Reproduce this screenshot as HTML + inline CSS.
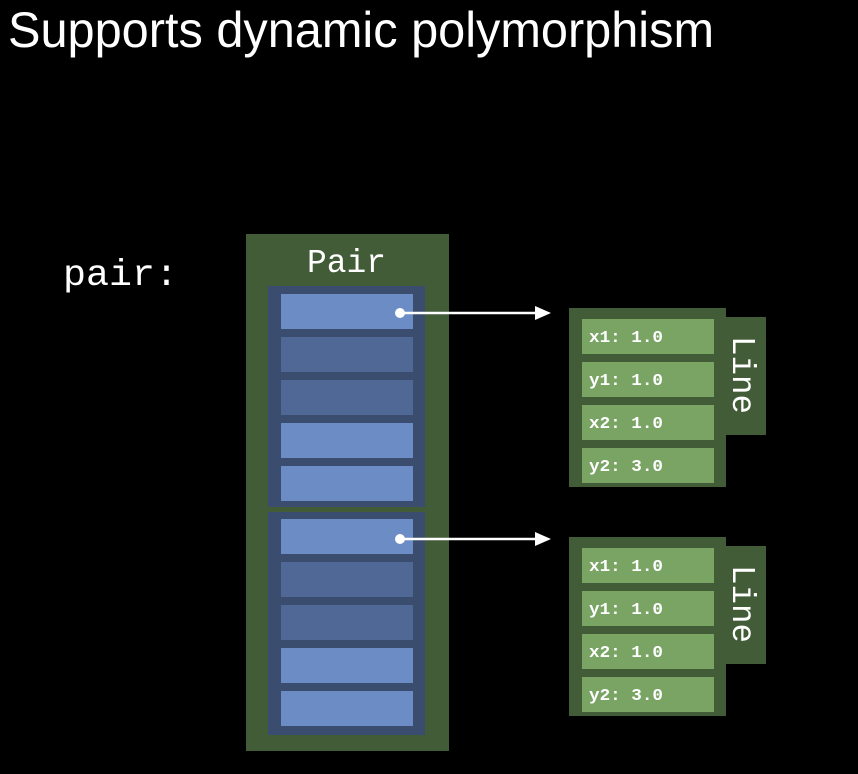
<!DOCTYPE html>
<html><head><style>
html,body{margin:0;padding:0;background:#000;width:858px;height:774px;overflow:hidden}
</style></head><body>
<svg width="858" height="774" viewBox="0 0 858 774" xmlns="http://www.w3.org/2000/svg">
<rect width="858" height="774" fill="#000"/>
<text x="8" y="47" font-family="Liberation Sans, sans-serif" font-size="50" fill="#fff" textLength="706" lengthAdjust="spacingAndGlyphs">Supports dynamic polymorphism</text>
<text x="63" y="285" font-family="Liberation Mono, monospace" font-size="37" fill="#fff" textLength="115" lengthAdjust="spacingAndGlyphs">pair:</text>
<rect x="246" y="234" width="203" height="517" fill="#435c38"/>
<text x="307" y="272" font-family="Liberation Mono, monospace" font-size="33" fill="#fff" textLength="79" lengthAdjust="spacingAndGlyphs">Pair</text>
<rect x="268" y="286" width="157" height="221" fill="#3b4d6e"/>
<rect x="268" y="512" width="157" height="223" fill="#3b4d6e"/>
<g>
<rect x="281" y="294" width="132" height="35" fill="#6b8cc4"/>
<rect x="281" y="337" width="132" height="35" fill="#4f6896"/>
<rect x="281" y="380" width="132" height="35" fill="#4f6896"/>
<rect x="281" y="423" width="132" height="35" fill="#6b8cc4"/>
<rect x="281" y="466" width="132" height="35" fill="#6b8cc4"/>
<rect x="281" y="519" width="132" height="35" fill="#6b8cc4"/>
<rect x="281" y="562" width="132" height="35" fill="#4f6896"/>
<rect x="281" y="605" width="132" height="35" fill="#4f6896"/>
<rect x="281" y="648" width="132" height="35" fill="#6b8cc4"/>
<rect x="281" y="691" width="132" height="35" fill="#6b8cc4"/>
</g>
<g stroke="#fff" stroke-width="2.5" fill="#fff">
<circle cx="400" cy="313" r="5" stroke="none"/>
<line x1="400" y1="313" x2="536" y2="313"/>
<polygon points="535,306 551,313 535,320" stroke="none"/>
<circle cx="400" cy="539" r="5" stroke="none"/>
<line x1="400" y1="539" x2="536" y2="539"/>
<polygon points="535,532 551,539 535,546" stroke="none"/>
</g>
<g font-family="Liberation Mono, monospace" font-weight="bold" font-size="17" fill="#fff">
<rect x="569" y="308" width="157" height="179" fill="#435c38"/>
<rect x="726" y="317" width="40" height="118" fill="#435c38"/>
<rect x="582" y="319" width="132" height="35" fill="#79a464"/>
<rect x="582" y="362" width="132" height="35" fill="#79a464"/>
<rect x="582" y="405" width="132" height="35" fill="#79a464"/>
<rect x="582" y="448" width="132" height="35" fill="#79a464"/>
<text x="589" y="342" textLength="74" lengthAdjust="spacingAndGlyphs">x1: 1.0</text>
<text x="589" y="385" textLength="74" lengthAdjust="spacingAndGlyphs">y1: 1.0</text>
<text x="589" y="428" textLength="74" lengthAdjust="spacingAndGlyphs">x2: 1.0</text>
<text x="589" y="471" textLength="74" lengthAdjust="spacingAndGlyphs">y2: 3.0</text>
<rect x="569" y="537" width="157" height="179" fill="#435c38"/>
<rect x="726" y="546" width="40" height="118" fill="#435c38"/>
<rect x="582" y="548" width="132" height="35" fill="#79a464"/>
<rect x="582" y="591" width="132" height="35" fill="#79a464"/>
<rect x="582" y="634" width="132" height="35" fill="#79a464"/>
<rect x="582" y="677" width="132" height="35" fill="#79a464"/>
<text x="589" y="571" textLength="74" lengthAdjust="spacingAndGlyphs">x1: 1.0</text>
<text x="589" y="614" textLength="74" lengthAdjust="spacingAndGlyphs">y1: 1.0</text>
<text x="589" y="657" textLength="74" lengthAdjust="spacingAndGlyphs">x2: 1.0</text>
<text x="589" y="700" textLength="74" lengthAdjust="spacingAndGlyphs">y2: 3.0</text>
</g>
<g font-family="Liberation Mono, monospace" font-size="33" fill="#fff">
<text transform="translate(733,336) rotate(90)" textLength="78" lengthAdjust="spacingAndGlyphs">Line</text>
<text transform="translate(733,565) rotate(90)" textLength="78" lengthAdjust="spacingAndGlyphs">Line</text>
</g>
</svg>
</body></html>
